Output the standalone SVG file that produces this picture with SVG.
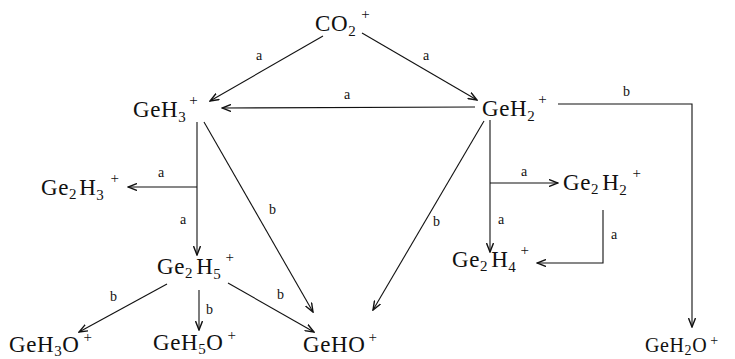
<svg xmlns="http://www.w3.org/2000/svg" width="735" height="359" viewBox="0 0 735 359">
<defs>
<marker id="ah" viewBox="0 0 10 8" refX="9" refY="4" markerWidth="10" markerHeight="8" markerUnits="userSpaceOnUse" orient="auto">
<path d="M0,0.5 L9,4 L0,7.5" fill="none" stroke="#111" stroke-width="1.4"/>
</marker>
</defs>
<style>
.n{font-family:'Liberation Serif','Times New Roman','DejaVu Serif',serif;font-size:23px;fill:#111;letter-spacing:0.6px}
.s{font-size:15px}
.p{font-size:15px}
.l{font-family:'Liberation Serif','Times New Roman','DejaVu Serif',serif;font-size:14px;fill:#111}
.c{fill:none;stroke:#111;stroke-width:1.1}
</style>
<rect width="735" height="359" fill="#fff"/>
<g id="connectors">
<line class="c" x1="323" y1="36" x2="210" y2="101" marker-end="url(#ah)"/>
<line class="c" x1="362" y1="33" x2="477" y2="100" marker-end="url(#ah)"/>
<line class="c" x1="475" y1="107" x2="222" y2="108" marker-end="url(#ah)"/>
<polyline class="c" points="558,104 692,104 692,327" marker-end="url(#ah)"/>
<line class="c" x1="197" y1="122" x2="197" y2="255" marker-end="url(#ah)"/>
<line class="c" x1="197" y1="187" x2="128" y2="187" marker-end="url(#ah)"/>
<line class="c" x1="204" y1="122" x2="313" y2="312" marker-end="url(#ah)"/>
<line class="c" x1="490" y1="120" x2="490" y2="252" marker-end="url(#ah)"/>
<line class="c" x1="490" y1="183" x2="558" y2="183" marker-end="url(#ah)"/>
<polyline class="c" points="603,210 603,263 537,263" marker-end="url(#ah)"/>
<line class="c" x1="484" y1="121" x2="373" y2="310" marker-end="url(#ah)"/>
<line class="c" x1="167" y1="284" x2="79" y2="332" marker-end="url(#ah)"/>
<line class="c" x1="199" y1="290" x2="199" y2="330" marker-end="url(#ah)"/>
<line class="c" x1="228" y1="283" x2="314" y2="332" marker-end="url(#ah)"/>
<text class="l" x="256" y="60">a</text>
<text class="l" x="423" y="60">a</text>
<text class="l" x="344" y="99">a</text>
<text class="l" x="623" y="96">b</text>
<text class="l" x="158" y="177">a</text>
<text class="l" x="180" y="224">a</text>
<text class="l" x="269" y="214">b</text>
<text class="l" x="521" y="176">a</text>
<text class="l" x="498" y="224">a</text>
<text class="l" x="611" y="239">a</text>
<text class="l" x="433" y="226">b</text>
<text class="l" x="110" y="301">b</text>
<text class="l" x="206" y="314">b</text>
<text class="l" x="277" y="299">b</text>
</g>
<g id="n-co2"><text class="n" x="315" y="31">CO<tspan class="s" dy="5">2</tspan><tspan class="p" dx="5" dy="-17">+</tspan></text></g>
<g id="n-geh3"><text class="n" x="133" y="117">GeH<tspan class="s" dy="5">3</tspan><tspan class="p" dx="3" dy="-17">+</tspan></text></g>
<g id="n-geh2"><text class="n" x="482" y="116">GeH<tspan class="s" dy="5">2</tspan><tspan class="p" dx="3" dy="-17">+</tspan></text></g>
<g id="n-ge2h3"><text class="n" x="41" y="195">Ge<tspan class="s" dy="4">2</tspan><tspan dx="2" dy="-4">H</tspan><tspan class="s" dy="5">3</tspan><tspan class="p" dx="6" dy="-17">+</tspan></text></g>
<g id="n-ge2h2"><text class="n" x="563" y="190">Ge<tspan class="s" dy="4">2</tspan><tspan dx="3" dy="-4">H</tspan><tspan class="s" dy="5">2</tspan><tspan class="p" dx="5" dy="-17">+</tspan></text></g>
<g id="n-ge2h5"><text class="n" x="157" y="274">Ge<tspan class="s" dy="4">2</tspan><tspan dx="3" dy="-4">H</tspan><tspan class="s" dy="5">5</tspan><tspan class="p" dx="4" dy="-17">+</tspan></text></g>
<g id="n-ge2h4"><text class="n" x="452" y="267">Ge<tspan class="s" dy="4">2</tspan><tspan dx="3" dy="-4">H</tspan><tspan class="s" dy="5">4</tspan><tspan class="p" dx="4" dy="-17">+</tspan></text></g>
<g id="n-geh3o"><text class="n" x="9" y="352">GeH<tspan class="s" dy="4">3</tspan><tspan dy="-4">O</tspan><tspan class="p" dx="4" dy="-10">+</tspan></text></g>
<g id="n-geh5o"><text class="n" x="153" y="350">GeH<tspan class="s" dy="4">5</tspan><tspan dy="-4">O</tspan><tspan class="p" dx="4" dy="-10">+</tspan></text></g>
<g id="n-geho"><text class="n" x="303" y="352">GeHO<tspan class="p" dx="3" dy="-10">+</tspan></text></g>
<g id="n-geh2o"><text class="n" x="645" y="352" style="font-size:20px">GeH<tspan class="s" style="font-size:14px" dy="3">2</tspan><tspan dy="-3">O</tspan><tspan class="p" style="font-size:14px" dx="3" dy="-7">+</tspan></text></g>
</svg>
